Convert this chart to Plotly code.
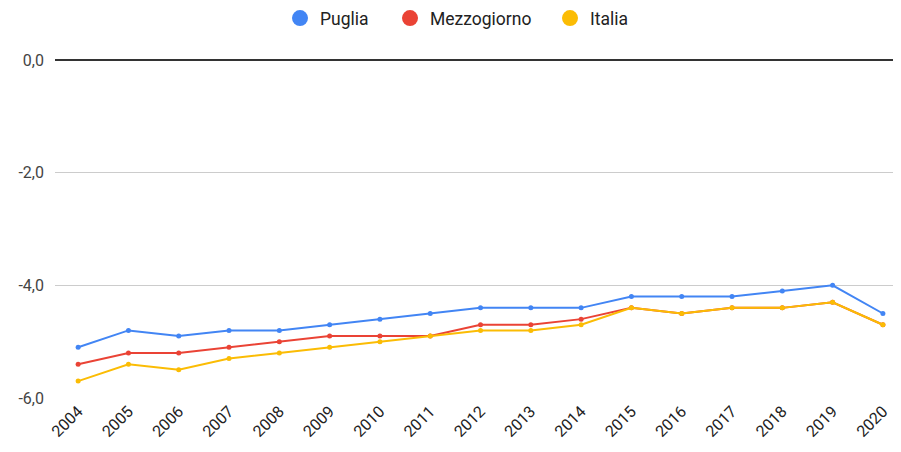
import plotly.graph_objects as go

years = ["2004","2005","2006","2007","2008","2009","2010","2011","2012","2013","2014","2015","2016","2017","2018","2019","2020"]
puglia = [-5.1,-4.8,-4.9,-4.8,-4.8,-4.7,-4.6,-4.5,-4.4,-4.4,-4.4,-4.2,-4.2,-4.2,-4.1,-4.0,-4.5]
mezzogiorno = [-5.4,-5.2,-5.2,-5.1,-5.0,-4.9,-4.9,-4.9,-4.7,-4.7,-4.6,-4.4,-4.5,-4.4,-4.4,-4.3,-4.7]
italia = [-5.7,-5.4,-5.5,-5.3,-5.2,-5.1,-5.0,-4.9,-4.8,-4.8,-4.7,-4.4,-4.5,-4.4,-4.4,-4.3,-4.7]
y_ticks = [0, -2, -4, -6]
y_labels = ["0,0", "-2,0", "-4,0", "-6,0"]

series = [("Puglia", puglia, "#4285F4", "legend", 272),
          ("Mezzogiorno", mezzogiorno, "#EA4335", "legend2", 382),
          ("Italia", italia, "#FBBC04", "legend3", 542)]

W, H = 893, 444

fig = go.Figure()
for name, vals, col, lg, _ in series:
    fig.add_trace(go.Scatter(x=years, y=vals, name=name, mode="lines+markers", showlegend=False,
                             line=dict(color=col, width=2), marker=dict(color=col, size=5)))
for name, vals, col, lg, _ in series:
    fig.add_trace(go.Scatter(x=[None], y=[None], name=name, mode="markers", showlegend=True,
                             legend=lg, marker=dict(color=col, size=16)))

legend_common = dict(orientation="h", xanchor="left", xref="container",
                     y=0.977, yanchor="middle", yref="container",
                     font=dict(size=17.5, color="#222222"), itemsizing="trace",
                     bgcolor="rgba(0,0,0,0)")
layout_legends = {}
for name, vals, col, lg, px in series:
    layout_legends[lg] = dict(legend_common, x=px / W)

fig.update_layout(
    width=W, height=H,
    margin=dict(l=47, r=3, t=52, b=54),
    paper_bgcolor="white", plot_bgcolor="white",
    font=dict(family="Roboto", size=16, color="#444444"),
    showlegend=True,
    **layout_legends,
)
fig.update_xaxes(type="category", range=[-0.46, 16.3], showgrid=False, showline=False, ticks="",
                 tickangle=-45, tickfont=dict(size=16, color="#222222"))
fig.update_yaxes(range=[-6, 0], tickvals=y_ticks, ticktext=y_labels, showgrid=True, gridcolor="#CCCCCC",
                 gridwidth=1, zeroline=True, zerolinecolor="#333333", zerolinewidth=1.5,
                 tickfont=dict(size=16, color="#444444"), ticks="", showline=False,
                 ticklabelstandoff=10)

fig.write_html("out.html")
